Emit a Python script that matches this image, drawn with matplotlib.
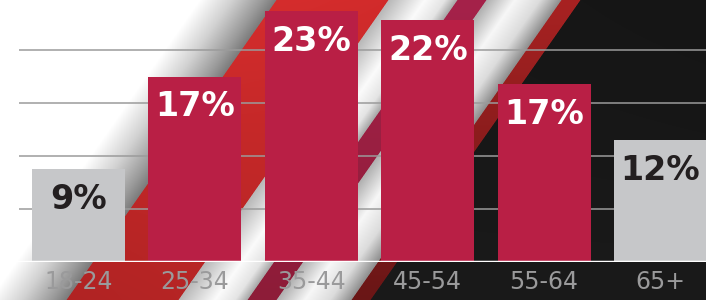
import numpy as np
import matplotlib
matplotlib.use("Agg")
import matplotlib.pyplot as plt
from matplotlib.colors import to_rgb

# data
age_groups = ["18-24", "25-34", "35-44", "45-54", "55-64", "65+"]
shares = [9, 17, 23, 22, 17, 12]                    # printed labels (%)
bar_heights = [8.8, 17.5, 23.7, 22.8, 16.8, 11.5]   # heights as drawn
highlight = [False, True, True, True, True, False]
grid_levels = [5, 10, 15, 20]

CRIMSON = "#b91f45"
GREY_BAR = "#c6c7c9"

# --- diagonal stripe background (decoration) ---
W, H = 706, 300
stops = [
    (0, "#ffffff", "#ffffff"),
    (200, "#ffffff", "#ffffff"),
    (232, "#d2d2d2", "#d2d2d2"),
    (262, "#9a9a9a", "#9a9a9a"),
    (276, "#7c7c7c", "#7c7c7c"),
    (277, "#d52d2d", "#b02323"),
    (388, "#d22b2b", "#b52525"),
    (389, "#b8b8b8", "#b8b8b8"),
    (425, "#fbfbfb", "#fbfbfb"),
    (445, "#e4e4e4", "#e4e4e4"),
    (457, "#a8a8a8", "#a8a8a8"),
    (458, "#a5224a", "#8d1c38"),
    (486, "#a5224a", "#8d1c38"),
    (487, "#b0b0b0", "#b0b0b0"),
    (515, "#f7f7f7", "#f7f7f7"),
    (540, "#dcdcdc", "#dcdcdc"),
    (561, "#8f8f8f", "#8f8f8f"),
    (562, "#a82222", "#6a1616"),
    (580, "#a82222", "#6a1616"),
    (581, "#161616", "#1a1a1a"),
    (1200, "#121212", "#1a1a1a"),
]
yy, xx = np.mgrid[0:H, 0:W] + 0.5
u = xx + 0.7 * yy
t = (yy / H)[..., None]
us = [s[0] for s in stops]
top = np.stack([np.interp(u, us, [to_rgb(s[1])[c] for s in stops]) for c in range(3)], axis=-1)
bot = np.stack([np.interp(u, us, [to_rgb(s[2])[c] for s in stops]) for c in range(3)], axis=-1)
bg_img = top * (1 - t) + bot * t

fig = plt.figure(figsize=(7.06, 3.0), dpi=100)
bg = fig.add_axes([0, 0, 1, 1])
bg.imshow(bg_img, aspect="auto", interpolation="bilinear")
bg.axis("off")

# --- bar chart ---
px_per_unit = 10.6
step = 116.4
ax = fig.add_axes([0, 38 / H, 1, 262 / H])
ax.patch.set_alpha(0)
x = np.arange(len(age_groups))
ax.set_xlim(-78.5 / step, (W - 78.5) / step)
ax.set_ylim(0, 262 / px_per_unit)

ax.hlines(grid_levels, -59.5 / step, len(age_groups), color="#9b9b9b", lw=1.1, zorder=1)

colors = [CRIMSON if h else GREY_BAR for h in highlight]
ax.bar(x, bar_heights, width=0.8, color=colors, zorder=2)
ax.axhline(0, color="white", lw=2.5, zorder=3)

for xi, h, s, hl in zip(x, bar_heights, shares, highlight):
    ax.annotate(f"{s}%", (xi, h), xytext=(0, -10), textcoords="offset points",
                ha="center", va="top", fontsize=24, fontweight="bold",
                color="white" if hl else "#231f20", zorder=4)

ax.set_xticks(x)
ax.set_xticklabels(age_groups, fontsize=17, color="#9a9a9b")
ax.tick_params(axis="x", length=0, pad=5.5)
ax.set_yticks([])
for sp in ax.spines.values():
    sp.set_visible(False)

fig.savefig("out.png", dpi=100)
